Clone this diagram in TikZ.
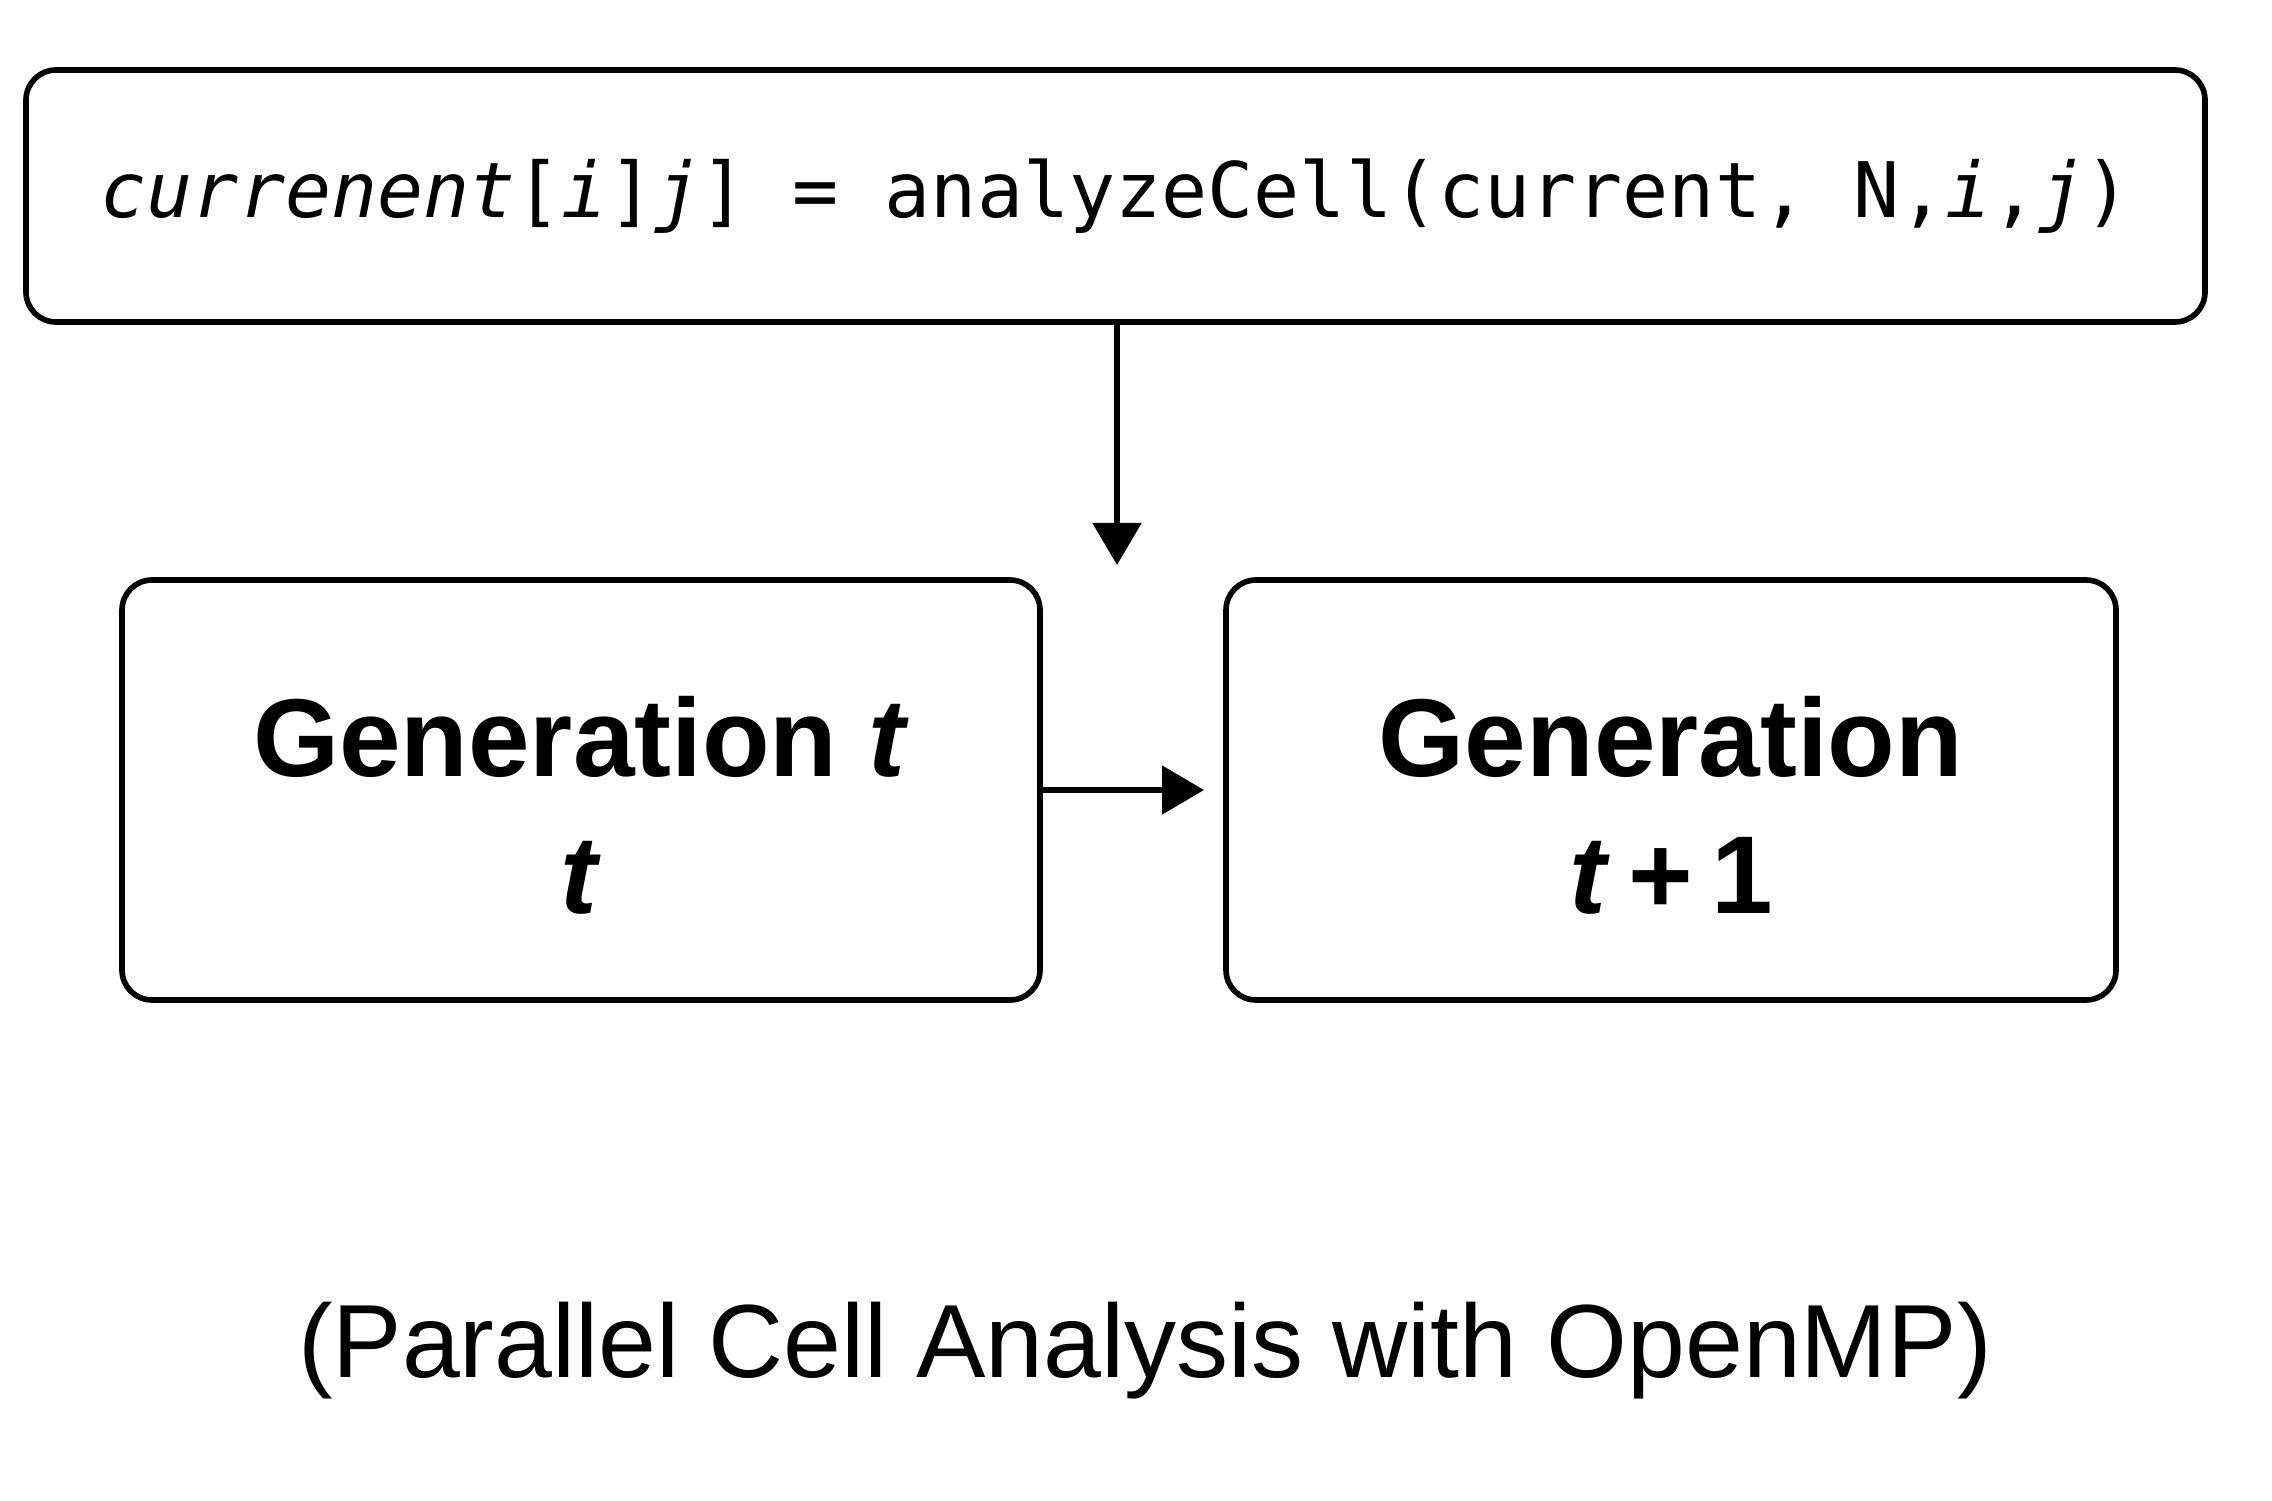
\documentclass[tikz,border=0pt]{standalone}
\usepackage{fontspec}
\setmainfont{Liberation Sans}
\newfontfamily\codefont{DejaVu Sans Mono}
\usetikzlibrary{arrows.meta}

\begin{document}
\begin{tikzpicture}[
  box/.style={draw,line width=1.6pt,rounded corners=0.3cm,align=center,inner sep=0pt},
  gen/.style={box,minimum height=4.2cm,font=\bfseries\fontsize{31.5}{39}\selectfont},
  flow/.style={-{Triangle[length=0.42cm,width=0.48cm]},line width=1.5pt}]
  \useasboundingbox (0,0) rectangle (22.72,15);
  \node[box,minimum width=21.79cm,minimum height=2.52cm,
    font=\codefont\fontsize{21.8}{26}\selectfont] (update) at (11.155,13.04)
    {\textit{currenent}[\textit{i}]\textit{j}] = analyzeCell(current, N,\textit{i},\textit{j})};
  \node[gen,minimum width=9.18cm] (gent) at (5.81,7.10)
    {\rule{0pt}{1.1cm}Generation \textit{t}\\\textit{t}};
  \node[gen,minimum width=8.90cm] (gennext) at (16.71,7.10)
    {\rule{0pt}{1.1cm}Generation\\\textit{t}\,+\,1\hspace{0.4cm}};
  \coordinate (split) at (11.17,9.35);
  \coordinate (next) at (12.04,7.10);
  \draw[flow] (update.south -| split) -- (split);
  \draw[flow] (gent.east) -- (next);
  \node[anchor=base,font=\fontsize{29.6}{36}\selectfont] (caption) at (11.45,1.23)
    {(Parallel Cell Analysis with OpenMP)};
\end{tikzpicture}
\end{document}
